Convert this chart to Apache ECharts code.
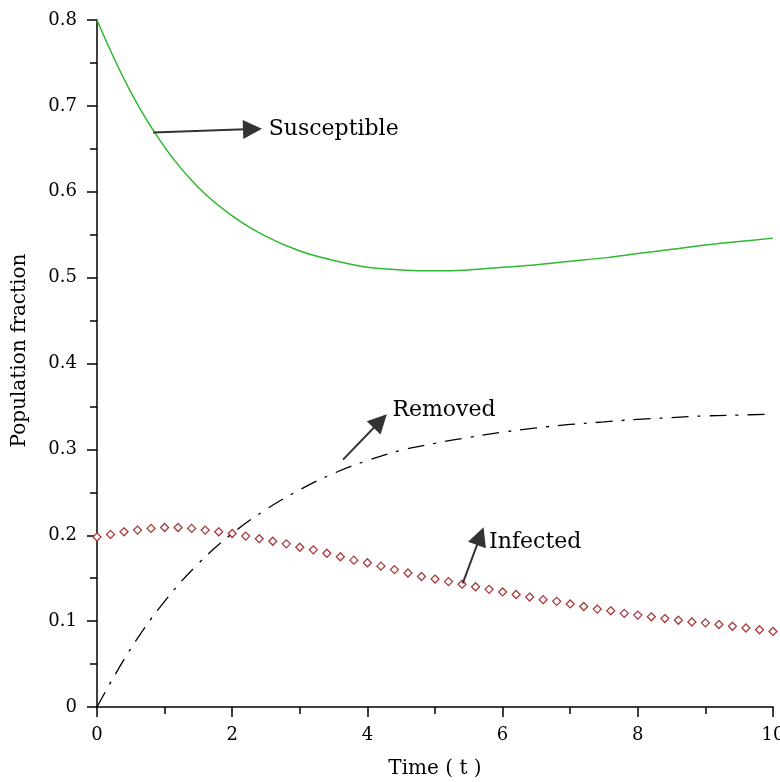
<!DOCTYPE html>
<html>
<head>
<meta charset="utf-8">
<script src="https://cdn.jsdelivr.net/npm/echarts@6/dist/echarts.min.js"></script>
<style>html,body{margin:0;padding:0;background:#fff;}#c{width:780px;height:782px;}</style>
</head>
<body>
<div id="c"></div>
<script>
// Time grid for the smooth curves
var tCurve = [0, 0.5, 1, 1.5, 2, 2.5, 3, 3.5, 4, 4.5, 5, 5.5, 6, 6.5, 7, 7.5, 8, 8.5, 9, 9.5, 10];
var susceptible = [0.800, 0.716, 0.652, 0.605, 0.572, 0.548, 0.531, 0.520, 0.512, 0.509, 0.508, 0.509, 0.512, 0.515, 0.519, 0.523, 0.528, 0.533, 0.538, 0.542, 0.546];
var removed = [0.000, 0.068, 0.123, 0.167, 0.202, 0.230, 0.253, 0.272, 0.287, 0.299, 0.307, 0.314, 0.320, 0.325, 0.329, 0.332, 0.335, 0.337, 0.339, 0.340, 0.341];
// Time grid for the infected markers
var tInf = [0, 0.2, 0.4, 0.6, 0.8, 1, 1.2, 1.4, 1.6, 1.8, 2, 2.2, 2.4, 2.6, 2.8, 3, 3.2, 3.4, 3.6, 3.8, 4, 4.2, 4.4, 4.6, 4.8, 5, 5.2, 5.4, 5.6, 5.8, 6, 6.2, 6.4, 6.6, 6.8, 7, 7.2, 7.4, 7.6, 7.8, 8, 8.2, 8.4, 8.6, 8.8, 9, 9.2, 9.4, 9.6, 9.8, 10];
var infected = [0.198, 0.201, 0.204, 0.206, 0.208, 0.209, 0.209, 0.208, 0.206, 0.204, 0.202, 0.199, 0.196, 0.193, 0.190, 0.186, 0.183, 0.179, 0.175, 0.171, 0.168, 0.164, 0.160, 0.156, 0.152, 0.149, 0.146, 0.143, 0.140, 0.137, 0.134, 0.131, 0.128, 0.125, 0.123, 0.120, 0.117, 0.114, 0.112, 0.109, 0.107, 0.105, 0.103, 0.101, 0.099, 0.098, 0.096, 0.094, 0.092, 0.090, 0.088];
var xTitle = 'Time ( t )';
var yTitle = 'Population fraction';
var labels = ['Susceptible', 'Removed', 'Infected'];
// annotation anchors in data coordinates: [tail, arrow end, label position]
var annS = [[0.83, 0.669], [2.30, 0.673], [2.54, 0.673]];
var annR = [[3.64, 0.288], [4.19, 0.333], [4.37, 0.345]];
var annI = [[5.41, 0.144], [5.67, 0.199], [5.80, 0.192]];

function pairs(t, v) { return t.map(function (x, i) { return [x, v[i]]; }); }
var FONT = 'DejaVu Serif';

function annotation(a, text) {
  return {
    markLine: {
      silent: true,
      animation: false,
      symbol: ['none', 'triangle'],
      symbolSize: 19,
      lineStyle: { type: 'solid', color: '#333', width: 2 },
      label: { show: false },
      data: [[{ coord: a[0] }, { coord: a[1] }]]
    },
    markPoint: {
      silent: true,
      animation: false,
      symbol: 'circle',
      symbolSize: 0,
      label: { show: true, position: 'right', distance: 0, color: '#000', fontFamily: FONT, fontSize: 22, formatter: text },
      data: [{ coord: a[2] }]
    }
  };
}

var sS = Object.assign({
  type: 'line', name: labels[0], data: pairs(tCurve, susceptible), smooth: 0.4, symbol: 'none',
  lineStyle: { color: '#2fb82f', width: 1.5 }, z: 3
}, annotation(annS, labels[0]));
var sR = Object.assign({
  type: 'line', name: labels[1], data: pairs(tCurve, removed), smooth: 0.4, symbol: 'none',
  lineStyle: { color: '#000', width: 1.3, type: [17, 9, 3, 9] }, z: 3
}, annotation(annR, labels[1]));
var sI = Object.assign({
  type: 'line', name: labels[2], data: pairs(tInf, infected), symbol: 'diamond', symbolSize: 8,
  showSymbol: true,
  lineStyle: { width: 0, opacity: 0 },
  itemStyle: { color: '#fff', borderColor: '#a83a3a', borderWidth: 1.3 }, z: 2
}, annotation(annI, labels[2]));

var chart = echarts.init(document.getElementById('c'));
chart.setOption({
  animation: false,
  backgroundColor: '#fff',
  grid: { left: 97, right: 7, top: 20, bottom: 75, containLabel: false, outerBoundsMode: 'none' },
  xAxis: {
    type: 'value', min: 0, max: 10, interval: 2,
    name: xTitle, nameLocation: 'middle', nameGap: 52,
    nameTextStyle: { fontFamily: FONT, fontSize: 20, color: '#000' },
    axisLine: { lineStyle: { color: '#000', width: 1.5 } },
    axisTick: { show: true, inside: false, length: 10, lineStyle: { color: '#000', width: 1.5 } },
    minorTick: { show: true, splitNumber: 2, length: 7, lineStyle: { color: '#000', width: 1.5 } },
    axisLabel: { margin: 19, fontFamily: FONT, fontSize: 18, color: '#000' },
    splitLine: { show: false }
  },
  yAxis: {
    type: 'value', min: 0, max: 0.8, interval: 0.1,
    name: yTitle, nameLocation: 'middle', nameGap: 67, nameRotate: 90,
    nameTextStyle: { fontFamily: FONT, fontSize: 20, color: '#000', padding: [0, 0, 0, 26] },
    axisLine: { lineStyle: { color: '#000', width: 1.5 } },
    axisTick: { show: true, inside: false, length: 10, lineStyle: { color: '#000', width: 1.5 } },
    minorTick: { show: true, splitNumber: 2, length: 7, lineStyle: { color: '#000', width: 1.5 } },
    axisLabel: { margin: 20, fontFamily: FONT, fontSize: 18, color: '#000' },
    splitLine: { show: false }
  },
  series: [sS, sR, sI]
});
</script>
</body>
</html>
